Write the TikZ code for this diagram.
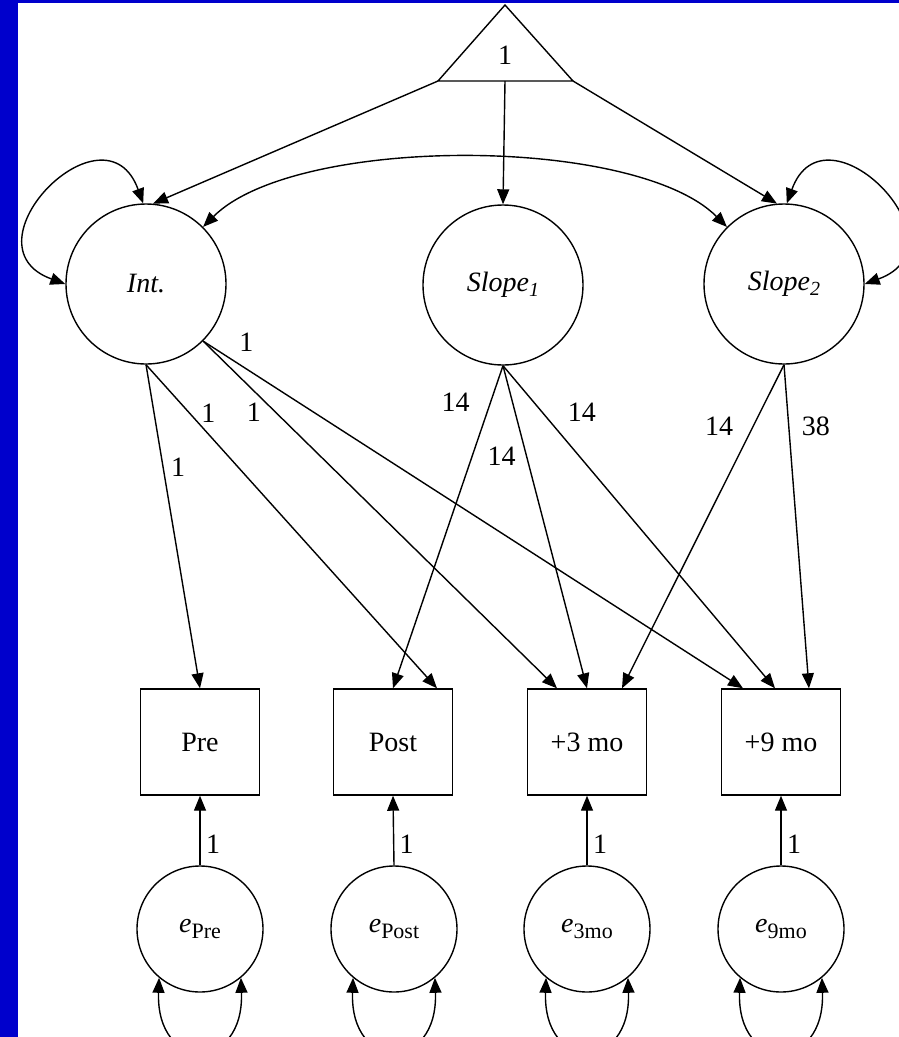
\documentclass[tikz,border=0pt]{standalone}
\usepackage{fontspec}
\setmainfont{Liberation Serif}
\usetikzlibrary{arrows.meta,calc}
\definecolor{bandblue}{RGB}{0,0,204}
\newcommand{\lowsub}[1]{\raisebox{-6pt}{\fontsize{22}{22}\selectfont #1}}
\newcommand{\slopesub}[1]{\raisebox{-5pt}{\fontsize{20}{20}\selectfont\itshape #1}}
\begin{document}
\begin{tikzpicture}[x=1pt,y=1pt,
  every node/.style={font=\fontsize{28}{30}\selectfont},
  latent/.style={draw, circle, line width=1.4pt, minimum size=160pt, inner sep=0pt},
  errc/.style={draw, circle, line width=1.4pt, minimum size=126pt, inner sep=0pt},
  obs/.style={draw, rectangle, line width=1.4pt, minimum width=119pt, minimum height=106pt, inner sep=0pt},
  arr/.style={line width=1.4pt, -{Triangle[length=15pt,width=12pt]}},
  darr/.style={line width=1.4pt, {Triangle[length=15pt,width=12pt]}-{Triangle[length=15pt,width=12pt]}},
  lbl/.style={inner sep=0pt}]
\useasboundingbox (0,0) rectangle (899,-1037);
\fill[bandblue] (0,0) rectangle (899,-1037);
\fill[white] (18,-3) rectangle (899,-1037);
\clip (0,0) rectangle (899,-1037);

% constant triangle
\draw[line width=1.4pt, line join=miter] (505,-5) -- (573,-81) -- (438,-81) -- cycle;
\node (one) at (505,-55) {1};
\coordinate (tl) at (438,-81);
\coordinate (tm) at (505,-81);
\coordinate (tr) at (573,-81);

% latent factors
\node[latent] (int) at (146,-284) {\itshape Int.};
\node[latent] (s1) at (503,-285) {\itshape Slope\slopesub{1}};
\node[latent] (s2) at (784,-284) {\itshape Slope\slopesub{2}};

% observed
\node[obs] (pre) at (200,-742) {Pre};
\node[obs] (post) at (393,-742) {Post};
\node[obs] (three) at (587,-742) {+3 mo};
\node[obs] (nine) at (781,-742) {+9 mo};

% errors
\node[errc] (epre) at (200,-929) {\textit{e}\lowsub{Pre}};
\node[errc] (epost) at (394,-929) {\textit{e}\lowsub{Post}};
\node[errc] (e3) at (587,-929) {\textit{e}\lowsub{3mo}};
\node[errc] (e9) at (781,-929) {\textit{e}\lowsub{9mo}};

% means
\draw[arr] (tl) -- (int.85);
\draw[arr] (tm) -- (s1.north);
\draw[arr] (tr) -- (s2.95);

% variances and covariance
\draw[darr] (int.180) .. controls +(160:112) and +(110:112) .. (int.92);
\draw[darr] (s2.88) .. controls +(70:112) and +(20:112) .. (s2.0);
\draw[darr] (int.45) .. controls +(45:130) and +(135:130) .. (s2.135);

% intercept loadings
\draw[arr] (int.270) -- (pre.north) node[lbl, pos=0.317, xshift=15pt] {1};
\draw[arr] (int.270) -- ($(post.north)+(44,0)$) node[lbl, pos=0.149, xshift=19pt] {1};
\draw[arr] (int.-45) -- ($(three.north)+(-30,0)$) node[lbl, pos=0.206, xshift=-22pt] {1};
\draw[arr] (int.-45) -- ($(nine.north)+(-38,0)$) node[lbl, pos=0.08, yshift=27pt] {1};

% slope 1 loadings
\draw[arr] (s1.south) -- (post.north) node[lbl, pos=0.112, xshift=-35pt] {14};
\draw[arr] (s1.south) -- (three.north) node[lbl, pos=0.28, xshift=-25pt] {14};
\draw[arr] (s1.south) -- ($(nine.north)+(-6,0)$) node[lbl, pos=0.143, xshift=40pt] {14};

% slope 2 loadings
\draw[arr] (s2.south) -- ($(three.north)+(35,0)$) node[lbl, pos=0.19, xshift=-34pt] {14};
\draw[arr] (s2.south) -- ($(nine.north)+(28,0)$) node[lbl, pos=0.19, xshift=27pt] {38};

% residuals
\foreach \e/\o in {epre/pre, epost/post, e3/three, e9/nine}{
  \draw[arr] (\e.north) -- (\o.south) node[lbl, pos=0.3, xshift=13pt] {1};
  \draw[darr] (\e.230) .. controls +(268:95) and +(272:95) .. (\e.310);
}
\end{tikzpicture}
\end{document}
